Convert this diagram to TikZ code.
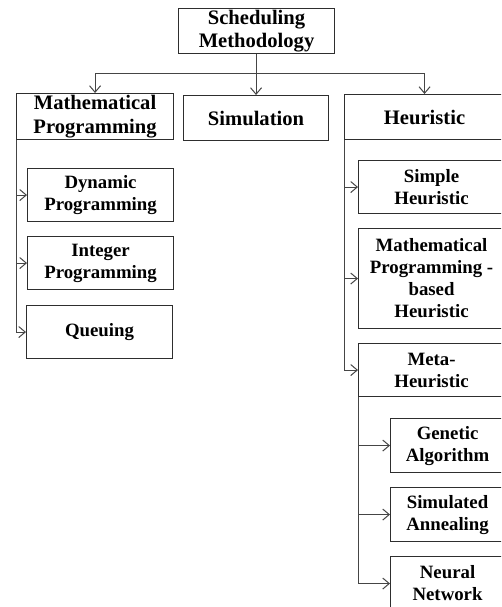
\documentclass[tikz,border=0pt]{standalone}
\usepackage{fontspec}
\setmainfont{Liberation Serif}
\usetikzlibrary{arrows.meta}
\definecolor{edge}{HTML}{454545}
\definecolor{frame}{HTML}{2E2E2E}
\begin{document}
\begin{tikzpicture}[x=1pt,y=-1pt,
  box/.style={draw=frame, line width=1.1pt, inner sep=0pt, align=center, anchor=north west, text=black},
  lvlone/.style={box, font=\fontsize{20.6}{23.5}\selectfont\bfseries},
  lvltwo/.style={box, font=\fontsize{18.8}{22}\selectfont\bfseries},
  link/.style={draw=edge, line width=1pt, -{Straight Barb[length=6.5pt,width=11pt]}}]
\useasboundingbox (0,0) rectangle (501,607);
\clip (0,0) rectangle (501,607);

% top level
\node[lvlone, minimum width=156pt, minimum height=45pt] (root) at (178,8) {Scheduling\\Methodology};
\node[lvlone, minimum width=157pt, minimum height=46pt] (mp) at (16,93) {Mathematical\\Programming};
\node[lvlone, minimum width=145pt, minimum height=45pt] (sim) at (183,95) {Simulation};
\node[lvlone, minimum width=160pt, minimum height=45pt] (heu) at (344,94) {Heuristic};

% mathematical programming branch
\node[lvltwo, minimum width=146pt, minimum height=53pt] (dp) at (27,168) {Dynamic\\Programming};
\node[lvltwo, minimum width=146pt, minimum height=53pt] (ip) at (27,236) {Integer\\Programming};
\node[lvltwo, minimum width=146pt, minimum height=53pt] (qu) at (26,305) {Queuing};

% heuristic branch
\node[lvltwo, minimum width=146pt, minimum height=53pt] (sh) at (358,160) {Simple\\Heuristic};
\node[lvltwo, minimum width=146pt, minimum height=100pt] (mph) at (358,228) {Mathematical\\Programming -\\based\\Heuristic};
\node[lvltwo, minimum width=146pt, minimum height=53pt] (meta) at (358,343) {Meta-\\Heuristic};

% meta-heuristic branch
\node[lvltwo, minimum width=114pt, minimum height=54pt] (ga) at (390,418) {Genetic\\Algorithm};
\node[lvltwo, minimum width=114pt, minimum height=54pt] (sa) at (390,487) {Simulated\\Annealing};
\node[lvltwo, minimum width=114pt, minimum height=54pt] (nn) at (390,556) {Neural\\Network};

% connectors
\draw[draw=edge, line width=1pt] (root.south) -- ++(0,19) coordinate (bus);
\draw[link] (bus) -| (mp.north);
\draw[link] (bus) -| (sim.north);
\draw[link] (bus) -| (heu.north);

\draw[link] (mp.south west) |- (dp.west);
\draw[link] (mp.south west) |- (ip.west);
\draw[link] (mp.south west) |- (qu.west);

\draw[link] (heu.south west) |- (sh.west);
\draw[link] (heu.south west) |- (mph.west);
\draw[link] (heu.south west) |- (meta.west);

\draw[link] (meta.south west) |- (ga.west);
\draw[link] (meta.south west) |- (sa.west);
\draw[link] (meta.south west) |- (nn.west);
\end{tikzpicture}
\end{document}
